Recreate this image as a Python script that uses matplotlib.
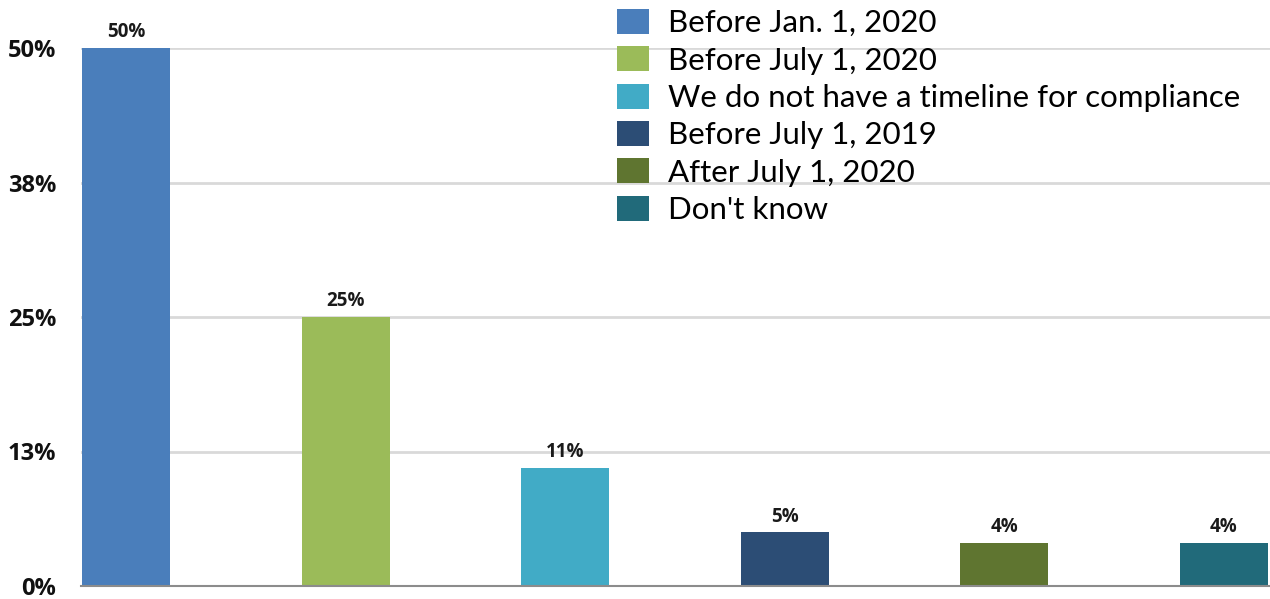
import matplotlib
matplotlib.use("Agg")
import matplotlib.pyplot as plt
from matplotlib.patches import Patch

categories = ["Before Jan. 1, 2020", "Before July 1, 2020",
              "We do not have a timeline for compliance", "Before July 1, 2019",
              "After July 1, 2020", "Don't know"]
values = [50, 25, 11, 5, 4, 4]
value_labels = ["50%", "25%", "11%", "5%", "4%", "4%"]
yticks = [0, 12.5, 25, 37.5, 50]
ytick_labels = ["0%", "13%", "25%", "38%", "50%"]
colors = ["#4a7ebb", "#9bbb59", "#41abc6", "#2c4d75", "#5f7530", "#216a7a"]

plt.rcParams['font.family'] = ['Lato', 'DejaVu Sans']
bold_family = ['Open Sans', 'DejaVu Sans']

fig = plt.figure(figsize=(12.7, 5.99), dpi=100)
ax = fig.add_axes([81/1270, 13/599, 1189/1270, 538/599])

x = list(range(len(values)))
bars = ax.bar(x, values, width=0.4, color=colors, zorder=3)
for xi, v, lab in zip(x, values, value_labels):
    ax.annotate(lab, (xi, v), xytext=(0, 4), textcoords="offset points",
                ha="center", va="bottom", fontsize=13.5, fontweight="bold",
                family=bold_family, color="#1a1a1a")

ax.set_xlim(-0.205, 5.21)
ax.set_ylim(0, 50)
ax.set_yticks(yticks)
ax.set_yticklabels(ytick_labels, fontsize=17, fontweight="bold",
                   family=bold_family, color="#111111")
ax.set_xticks([])
ax.tick_params(axis="y", length=0, pad=18)
ax.grid(axis="y", color="#d9d9d9", linewidth=2, zorder=0)
for s in ["top", "right", "left"]:
    ax.spines[s].set_visible(False)
ax.spines["bottom"].set_color("#8c8c8c")
ax.spines["bottom"].set_linewidth(1.5)
ax.spines["bottom"].set_zorder(4)

handles = [Patch(facecolor=c, edgecolor="none") for c in colors]
fig.legend(handles, categories, loc="upper left",
           bbox_to_anchor=(617/1270, 1 - 9/599), frameon=False,
           fontsize=22.5, handlelength=1.03, handleheight=0.85,
           handletextpad=0.6, labelspacing=0.29, borderaxespad=0,
           borderpad=0)

fig.savefig("out.png", dpi=100, facecolor="white")
